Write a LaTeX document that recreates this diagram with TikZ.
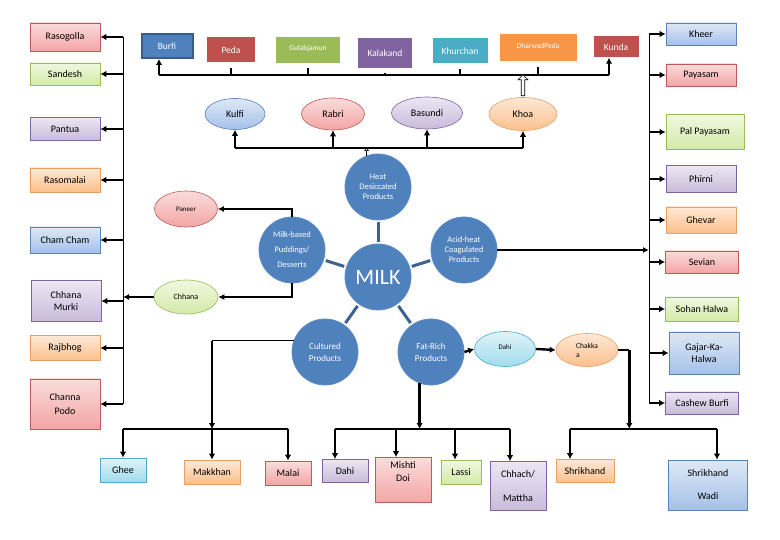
\documentclass[tikz,border=0pt]{standalone}
\usepackage{fontspec}
\setmainfont{Carlito}
\usetikzlibrary{arrows.meta,shapes.geometric,shapes.arrows,calc}

\definecolor{rosyT}{HTML}{FADCDC}\definecolor{rosyB}{HTML}{F3A5A4}\definecolor{rosyD}{HTML}{BE5B58}
\definecolor{leafyT}{HTML}{F0F8E0}\definecolor{leafyB}{HTML}{D3EAA8}\definecolor{leafyD}{HTML}{9BBB59}
\definecolor{lilacT}{HTML}{ECE6F2}\definecolor{lilacB}{HTML}{C8BBDB}\definecolor{lilacD}{HTML}{8064A2}
\definecolor{peachT}{HTML}{FDE8D6}\definecolor{peachB}{HTML}{FBC08C}\definecolor{peachD}{HTML}{E9A064}
\definecolor{skyT}{HTML}{DEE8F5}\definecolor{skyB}{HTML}{A4C1EA}\definecolor{skyD}{HTML}{5A83B8}
\definecolor{aquaT}{HTML}{E0F3F8}\definecolor{aquaB}{HTML}{A0DCEE}\definecolor{aquaD}{HTML}{4BACC6}
\definecolor{hubblue}{HTML}{4F81BD}\definecolor{hubedge}{HTML}{5D8DC6}\definecolor{spokeblue}{HTML}{3E6290}
\definecolor{tBlue}{HTML}{4F81BD}\definecolor{tBlueD}{HTML}{385D8A}\definecolor{tRed}{HTML}{C0504D}
\definecolor{tGreen}{HTML}{9BBB59}\definecolor{tPurple}{HTML}{8064A2}\definecolor{tCyan}{HTML}{4BACC6}
\definecolor{tOrange}{HTML}{F79646}

\tikzset{
  dish/.style={rectangle, line width=0.7pt, minimum width=70, minimum height=24, inner sep=1pt,
    align=center, font=\fontsize{10}{12}\selectfont},
  tile/.style={rectangle, text=white, inner sep=1pt, font=\fontsize{9.5}{11}\selectfont},
  blob/.style={ellipse, line width=0.6pt, inner sep=0pt, font=\fontsize{10}{11}\selectfont},
  hub/.style={circle, fill=hubblue, draw=hubedge, line width=0.8pt, minimum size=66, inner sep=0pt,
    text=white, align=center, font=\fontsize{8.5}{10}\selectfont},
  rosy/.style={top color=rosyT, bottom color=rosyB, draw=rosyD},
  leafy/.style={top color=leafyT, bottom color=leafyB, draw=leafyD},
  lilac/.style={top color=lilacT, bottom color=lilacB, draw=lilacD},
  peach/.style={top color=peachT, bottom color=peachB, draw=peachD},
  sky/.style={top color=skyT, bottom color=skyB, draw=skyD},
  aqua/.style={top color=aquaT, bottom color=aquaB, draw=aquaD},
  feed/.style={line width=2.4pt, -{Latex[length=6pt,width=6.5pt]}},
  rail/.style={line width=1.5pt},
  trunk/.style={line width=0.9pt},
  spoke/.style={line width=3pt, spokeblue, shorten <=2pt, shorten >=2pt},
}

\begin{document}
\begin{tikzpicture}[x=1pt,y=-1pt]
\useasboundingbox (0,0) rectangle (780,540);

% left column
\node[dish,rosy,minimum height=28] (rasogolla) at (65,37) {Rasogolla};
\node[dish,leafy,minimum height=22] (sandesh) at (65,74) {Sandesh};
\node[dish,lilac,minimum height=23] (pantua) at (65,129) {Pantua};
\node[dish,peach] (rasomalai) at (65,180) {Rasomalai};
\node[dish,sky,minimum height=26] (chamcham) at (65,240) {Cham Cham};
\node[dish,lilac,minimum height=41] (murki) at (66,301) {Chhana\\Murki};
\node[dish,peach,minimum height=25] (rajbhog) at (65,348) {Rajbhog};
\node[dish,rosy,minimum height=50] (podo) at (65,404) {Channa\\[2pt]Podo};

% right column
\node[dish,sky,minimum height=22] (kheer) at (701,34) {Kheer};
\node[dish,rosy,minimum height=22] (payasam) at (701,75) {Payasam};
\node[dish,leafy,minimum width=78,minimum height=35] (palpayasam) at (705,132) {Pal Payasam};
\node[dish,lilac,minimum height=27] (phirni) at (701,179) {Phirni};
\node[dish,peach,minimum height=26] (ghevar) at (701,220) {Ghevar};
\node[dish,rosy,minimum width=73,minimum height=22] (sevian) at (702,262) {Sevian};
\node[dish,leafy,minimum width=73] (sohan) at (702,309) {Sohan Halwa};
\node[dish,sky,minimum height=42] (gajar) at (704,353) {Gajar-Ka-\\Halwa};
\node[dish,lilac,minimum width=73,minimum height=22] (cashew) at (702,403) {Cashew Burfi};

% top row
\node[tile,fill=tBlue,draw=tBlueD,line width=2pt,minimum width=51,minimum height=24] (burfi) at (167,46) {Burfi};
\node[tile,fill=tRed,minimum width=48,minimum height=25] (peda) at (231,50) {Peda};
\node[tile,fill=tGreen,minimum width=64,minimum height=26,font=\fontsize{7.5}{9}\selectfont] (gulab) at (308,50) {\raisebox{5pt}{Gulabjamun}};
\node[tile,fill=tPurple,minimum width=54,minimum height=30] (kalakand) at (385,53) {Kalakand};
\node[tile,fill=tCyan,minimum width=55,minimum height=25] (khurchan) at (460,51) {Khurchan};
\node[tile,fill=tOrange,minimum width=77,minimum height=27,font=\fontsize{7.5}{9}\selectfont] (dharwad) at (538,48) {\raisebox{5pt}{DharwadPeda}};
\node[tile,fill=tRed,minimum width=45,minimum height=21] (kunda) at (616,47) {Kunda};

% second row
\node[blob,sky,minimum width=60,minimum height=31] (kulfi) at (235,114) {Kulfi};
\node[blob,rosy,minimum width=63,minimum height=32] (rabri) at (333,114) {Rabri};
\node[blob,lilac,minimum width=71,minimum height=32] (basundi) at (427,113) {Basundi};
\node[blob,peach,minimum width=68,minimum height=33] (khoa) at (523,114) {Khoa};

% milk and its groups
\node[hub,font=\fontsize{22}{24}\selectfont] (milk) at (378,277) {MILK};
\node[hub] (heat) at (378,187) {Heat\\Desiccated\\Products};
\node[hub,font=\fontsize{8.5}{15}\selectfont] (pud) at (292,250) {Milk-based\\Puddings/\\Desserts};
\node[hub] (acid) at (464,250) {Acid-heat\\Coagulated\\Products};
\node[hub,font=\fontsize{9}{12}\selectfont] (cult) at (325,352) {Cultured\\Products};
\node[hub,font=\fontsize{9}{12}\selectfont] (fat) at (431,352) {Fat-Rich\\Products};

\node[blob,rosy,minimum width=63,minimum height=36,font=\fontsize{7}{9}\selectfont] (paneer) at (186,209) {Paneer};
\node[blob,leafy,minimum width=64,minimum height=34,font=\fontsize{8}{9}\selectfont] (chhana) at (186,297) {Chhana};
\node[blob,aqua,minimum width=61,minimum height=35,font=\fontsize{7}{9}\selectfont] (dahi) at (505,349) {\raisebox{4pt}{Dahi}};
\node[blob,peach,minimum width=62,minimum height=33,align=left,font=\fontsize{7.5}{9}\selectfont] (chakka) at (587,350) {Chakka\\a};

% bottom row
\node[dish,aqua,minimum width=46] (ghee) at (123,470) {Ghee};
\node[dish,peach,minimum width=56] (makkhan) at (212,472) {Makkhan};
\node[dish,rosy,minimum width=46] (malai) at (288,473) {Malai};
\node[dish,lilac,minimum width=46,minimum height=23] (dahib) at (345,471) {Dahi};
\node[dish,rosy,minimum width=56,minimum height=45] (mishti) at (403,480) {Mishti\\[1pt]Doi\\[4pt]};
\node[dish,leafy,minimum width=40] (lassi) at (461,472) {Lassi};
\node[dish,lilac,minimum width=56,minimum height=49] (chhach) at (518,486) {Chhach/\\[12pt]Mattha};
\node[dish,peach,minimum width=58,minimum height=23] (shrikhand) at (585,471) {Shrikhand};
\node[dish,sky,minimum width=79,minimum height=50] (wadi) at (708,485) {Shrikhand\\[11pt]Wadi};

\foreach \s in {heat,pud,acid,cult,fat}
  \draw[spoke] (milk) -- (\s);

% left trunk
\coordinate (ltop) at (123,34);
\draw[trunk] (ltop |- rasogolla.east) -- (ltop |- podo.east);
\foreach \b in {rasogolla,sandesh,pantua,rasomalai,chamcham,murki,rajbhog,podo}
  \draw[feed] (ltop |- \b.east) -- (\b.east);

% right trunk
\coordinate (rtop) at (649,34);
\draw[trunk] (rtop |- kheer.west) -- (rtop |- cashew.west);
\foreach \b in {kheer,payasam,palpayasam,phirni,ghevar,sevian,sohan,gajar,cashew}
  \draw[feed] (rtop |- \b.west) -- (\b.west);
\draw[rail,-{Latex[length=6pt,width=6pt]}] (acid.east) -- (acid.east -| rtop);

% top rail
\coordinate (trail) at (400,75);
\draw[rail] ([xshift=-8pt]burfi.south |- trail) -- ([xshift=-7pt]kunda.south |- trail);
\draw[feed] ([xshift=-8pt]burfi.south |- trail) -- ([xshift=-8pt]burfi.south);
\draw[feed] ([xshift=-7pt]kunda.south |- trail) -- ([xshift=-7pt]kunda.south);
\foreach \b in {peda,gulab,kalakand,khurchan,dharwad}
  \draw[line width=2pt] (\b.south |- trail) -- ([yshift=-5pt]\b.south);
\node[single arrow, draw, fill=white, line width=0.6pt, minimum height=21, minimum width=10,
  single arrow head extend=2.5pt, shape border rotate=90, inner sep=1pt] (lift)
  at ($(khoa.north)!0.5!(khoa.north |- trail)$) {};

% heat rail
\coordinate (hrail) at (400,148);
\draw[rail] (kulfi.south |- hrail) -- (khoa.south |- hrail);
\foreach \b in {kulfi,rabri,basundi,khoa}
  \draw[feed] (\b.south |- hrail) -- (\b.south);
\draw[line width=0.5pt,-{Triangle[open,length=3pt,width=5pt]}] (heat.110) -- (heat.110 |- hrail);

% puddings
\draw[rail,-{Latex[length=6pt,width=6pt]}] (pud.north) |- (paneer.east);
\draw[rail,-{Latex[length=6pt,width=6pt]}] (pud.south) |- (chhana.east);
\draw[rail,-{Latex[length=6pt,width=6pt]}] (chhana.west) -- (chhana.west -| ltop);

% cultured
\coordinate (cbend) at (cult.160 -| makkhan.north);
\coordinate (crail) at (makkhan.north |- 0,429);
\draw[rail] (cult.160) -- (cbend);
\draw[feed] (cbend) -- (crail);
\draw[rail] (ghee.north |- crail) -- (malai.north |- crail);
\foreach \b in {ghee,makkhan,malai}
  \draw[feed] (\b.north |- crail) -- (\b.north);

% fat-rich
\coordinate (frail) at (fat.250 |- 0,429);
\draw[feed] (fat.250) -- (frail);
\draw[rail] ([xshift=-10pt]dahib.north |- frail) -- ([xshift=-8pt]chhach.north |- frail);
\draw[feed] ([xshift=-10pt]dahib.north |- frail) -- ([xshift=-10pt]dahib.north);
\draw[feed] ([xshift=-7pt]mishti.north |- frail) -- ([xshift=-7pt]mishti.north);
\draw[feed] ([xshift=-6pt]lassi.north |- frail) -- ([xshift=-6pt]lassi.north);
\draw[feed] ([xshift=-8pt]chhach.north |- frail) -- ([xshift=-8pt]chhach.north);
\draw[feed] (fat.east) -- (dahi.west);
\draw[feed] (dahi.east) -- (chakka.west);

% chakka
\coordinate (sbend) at ([xshift=11pt]chakka.east);
\coordinate (srail) at (sbend |- 0,429);
\draw[rail] (chakka.east) -- (sbend);
\draw[feed] (sbend) -- (srail);
\draw[rail] ([xshift=-15pt]shrikhand.north |- srail) -- ([xshift=9pt]wadi.north |- srail);
\draw[feed] ([xshift=-15pt]shrikhand.north |- srail) -- ([xshift=-15pt]shrikhand.north);
\draw[feed] ([xshift=9pt]wadi.north |- srail) -- ([xshift=9pt]wadi.north);
\end{tikzpicture}
\end{document}
